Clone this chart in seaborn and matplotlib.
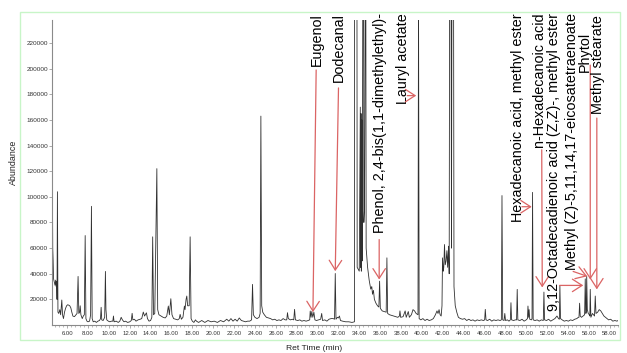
import numpy as np
import pandas as pd
import matplotlib
matplotlib.use("Agg")
import matplotlib.pyplot as plt
import seaborn as sns
from matplotlib.ticker import MultipleLocator, FuncFormatter
from matplotlib.patches import Rectangle

# Tracado do cromatograma (10 pontos por linha, tempo e abundancia alinhados)
ret_time = [
    4.57, 4.62, 4.66, 4.70, 4.78, 4.84, 4.90, 4.95, 5.00, 5.03,
    5.07, 5.12, 5.20, 5.30, 5.38, 5.49, 5.56, 5.65, 5.75, 5.85,
    5.95, 6.05, 6.15, 6.25, 6.35, 6.45, 6.55, 6.70, 6.85, 6.95,
    7.05, 7.12, 7.20, 7.25, 7.32, 7.45, 7.55, 7.65, 7.73, 7.80,
    7.90, 8.00, 8.15, 8.25, 8.33, 8.40, 8.50, 8.65, 8.80, 8.95,
    9.10, 9.20, 9.26, 9.32, 9.45, 9.60, 9.67, 9.72, 9.80, 9.95,
    10.10, 10.25, 10.38, 10.44, 10.50, 10.70, 10.90, 11.05, 11.18, 11.30,
    11.45, 11.60, 11.80, 12.00, 12.15, 12.23, 12.30, 12.45, 12.60, 12.80,
    13.00, 13.15, 13.30, 13.42, 13.60, 13.70, 13.85, 14.00, 14.12, 14.20,
    14.28, 14.40, 14.60, 14.68, 14.80, 15.00, 15.20, 15.40, 15.55, 15.70,
    15.80, 15.94, 16.05, 16.20, 16.40, 16.60, 16.75, 16.83, 16.95, 17.10,
    17.24, 17.30, 17.40, 17.47, 17.55, 17.70, 17.79, 17.88, 18.00, 18.15,
    18.30, 18.40, 18.60, 18.90, 19.20, 19.50, 19.80, 20.10, 20.40, 20.70,
    21.00, 21.30, 21.50, 21.70, 21.90, 22.10, 22.30, 22.50, 22.70, 22.90,
    23.10, 23.30, 23.50, 23.68, 23.77, 23.85, 24.00, 24.20, 24.40, 24.50,
    24.57, 24.65, 24.75, 24.90, 25.10, 25.30, 25.50, 25.70, 25.90, 26.10,
    26.30, 26.50, 26.70, 26.90, 27.05, 27.12, 27.20, 27.40, 27.60, 27.72,
    27.80, 27.88, 28.10, 28.30, 28.50, 28.70, 28.90, 29.10, 29.25, 29.30,
    29.38, 29.45, 29.55, 29.65, 29.75, 29.90, 30.10, 30.30, 30.40, 30.48,
    30.70, 30.90, 31.10, 31.30, 31.50, 31.63, 31.70, 31.77, 31.90, 32.00,
    32.10, 32.20, 32.40, 32.70, 33.00, 33.30, 33.54, 33.55, 33.78, 33.80,
    34.00, 34.10, 34.13, 34.17, 34.20, 34.24, 34.28, 34.34, 34.42, 34.44,
    34.50, 34.58, 34.63, 34.66, 34.80, 34.95, 35.10, 35.20, 35.27, 35.36,
    35.45, 35.60, 35.75, 35.88, 35.95, 36.02, 36.20, 36.40, 36.58, 36.65,
    36.72, 36.90, 37.10, 37.30, 37.50, 37.70, 37.85, 37.90, 37.97, 38.20,
    38.40, 38.50, 38.70, 38.80, 39.00, 39.15, 39.30, 39.45, 39.63, 39.68,
    39.74, 39.90, 40.10, 40.30, 40.50, 40.70, 40.90, 41.10, 41.30, 41.45,
    41.55, 41.65, 41.75, 41.85, 41.93, 41.98, 42.05, 42.10, 42.17, 42.24,
    42.32, 42.40, 42.47, 42.56, 42.62, 42.66, 42.80, 42.84, 42.88, 43.04,
    43.08, 43.20, 43.36, 43.50, 43.70, 43.90, 44.10, 44.30, 44.50, 44.70,
    44.90, 45.10, 45.30, 45.50, 45.70, 45.90, 46.02, 46.08, 46.15, 46.30,
    46.50, 46.70, 46.90, 47.10, 47.30, 47.50, 47.62, 47.68, 47.75, 47.88,
    47.95, 48.02, 48.20, 48.35, 48.48, 48.54, 48.60, 48.80, 48.95, 49.08,
    49.14, 49.20, 49.40, 49.60, 49.80, 50.00, 50.12, 50.17, 50.23, 50.28,
    50.34, 50.50, 50.56, 50.61, 50.67, 50.85, 51.05, 51.25, 51.45, 51.64,
    51.70, 51.76, 51.95, 52.15, 52.35, 52.55, 52.75, 52.95, 53.10, 53.18,
    53.23, 53.29, 53.45, 53.65, 53.85, 54.05, 54.25, 54.45, 54.65, 54.85,
    55.00, 55.06, 55.12, 55.18, 55.30, 55.45, 55.60, 55.66, 55.72, 55.76,
    55.80, 55.86, 55.95, 56.05, 56.10, 56.14, 56.20, 56.35, 56.55, 56.62,
    56.69, 56.85, 57.00, 57.15, 57.30, 57.45, 57.60, 57.75, 57.90, 58.10,
    58.30, 58.50, 58.70, 58.80,
]
abundance = [
    140000, 60000, 50000, 36000, 33000, 31000, 35000, 30000, 34000, 20000,
    104000, 10000, 9000, 12000, 8000, 19500, 8000, 5000, 10000, 13000,
    15000, 15800, 15500, 15000, 13500, 10000, 7000, 6500, 8000, 9000,
    37900, 9000, 10000, 15000, 8000, 5000, 7000, 8000, 69800, 5000,
    3000, 2500, 3000, 8000, 92600, 5000, 2500, 3000, 2000, 3000,
    3500, 5000, 13800, 4000, 3500, 6000, 41800, 12000, 4000, 3000,
    2500, 3000, 3000, 7000, 2500, 3000, 2000, 3000, 6000, 4000,
    2500, 3000, 2000, 2500, 3500, 9100, 4000, 4500, 3000, 4000,
    4500, 5000, 10100, 7000, 9500, 5000, 3000, 3500, 6000, 68800,
    8000, 9000, 122000, 12000, 8000, 7000, 6000, 5500, 7000, 14800,
    8000, 20500, 8000, 5000, 4500, 4000, 5000, 8300, 4500, 6000,
    14800, 12000, 20000, 22600, 15000, 15000, 68800, 5000, 3000, 2000,
    4000, 3000, 2000, 3500, 2000, 3500, 2500, 3000, 2000, 3500,
    2500, 4500, 3000, 5000, 3000, 4500, 3000, 5500, 3500, 3000,
    2500, 3000, 3000, 4000, 31700, 8000, 6000, 5000, 6000, 9000,
    163000, 15000, 10000, 8000, 6000, 5500, 5000, 4000, 4500, 3500,
    4000, 3500, 5000, 4000, 4000, 9600, 5000, 4000, 4500, 4000,
    12200, 4000, 3500, 4000, 3000, 3500, 3000, 3500, 4000, 10900,
    6000, 10500, 6000, 10000, 4000, 3500, 4000, 4500, 9000, 3500,
    4000, 3000, 4500, 5000, 5000, 4500, 40200, 4500, 6000, 5500,
    7000, 3500, 3000, 2500, 2500, 2000, 2500, 260000, 260000, 45000,
    42000, 170000, 45000, 165000, 42000, 160000, 50000, 260000, 260000, 80000,
    90000, 260000, 260000, 60000, 45000, 35000, 28000, 30000, 24000, 27000,
    20000, 17000, 15000, 14000, 34200, 13000, 11000, 10500, 10000, 52400,
    9000, 8000, 7500, 7000, 6500, 6000, 7000, 11000, 6000, 6500,
    11000, 6000, 10500, 6000, 8000, 12000, 11000, 9000, 8000, 260000,
    5000, 4000, 5000, 3500, 4500, 3500, 4000, 5000, 8000, 11000,
    9000, 12000, 8000, 7000, 15000, 52400, 42000, 45000, 62800, 47000,
    50000, 58000, 45000, 61500, 40000, 260000, 260000, 60000, 260000, 260000,
    30000, 15000, 9600, 6000, 5000, 4500, 5000, 3500, 4500, 3500,
    4000, 3000, 4000, 3500, 4000, 3500, 4000, 12200, 4000, 3500,
    4500, 3000, 4000, 3500, 4000, 3500, 4000, 101000, 4000, 3500,
    9000, 3500, 4000, 3000, 4000, 17400, 4000, 3500, 4000, 4000,
    27800, 4000, 3500, 4500, 3000, 4000, 5000, 14800, 6000, 12000,
    4500, 4000, 5000, 103500, 4000, 3500, 4000, 3000, 4000, 3500,
    25700, 4000, 3500, 4500, 3000, 4000, 5000, 7000, 5000, 4500,
    30900, 5000, 4000, 3000, 3500, 3000, 4000, 3500, 4500, 5000,
    6000, 6000, 17000, 7000, 6000, 7000, 8000, 36000, 9000, 10000,
    38000, 12000, 9000, 8000, 7000, 27800, 6000, 9000, 7000, 22600,
    9000, 10000, 12000, 11000, 9000, 7000, 6000, 5000, 4000, 4500,
    3000, 3500, 3000, 3500,
]

# Compostos identificados
compostos = [
    "Eugenol", "Dodecanal", "Phenol, 2,4-bis(1,1-dimethylethyl)-", "Lauryl acetate",
    "Hexadecanoic acid, methyl ester", "n-Hexadecanoic acid",
    "9,12-Octadecadienoic acid (Z,Z)-, methyl ester", "Methyl (Z)-5,11,14,17-eicosatetraenoate",
    "Phytol", "Methyl stearate",
]

df = pd.DataFrame({"Ret Time (min)": ret_time, "Abundance": abundance})

sns.set_style("white")
plt.rcParams["font.family"] = ["Liberation Sans", "DejaVu Sans"]

fig = plt.figure(figsize=(6.27, 3.53), dpi=100)
ax = fig.add_axes([52 / 627, 1 - 325 / 353, 566 / 627, 305 / 353])

sns.lineplot(data=df, x="Ret Time (min)", y="Abundance", estimator=None, sort=False,
             color="#303030", lw=0.6, ax=ax)

ax.set_xlim(4.55, 58.8)
ax.set_ylim(0, 238000)
ax.set_xticks(np.arange(6, 59, 2))
ax.xaxis.set_minor_locator(MultipleLocator(0.4))
ax.xaxis.set_major_formatter(FuncFormatter(lambda v, p: f"{v:.2f}"))
ax.set_yticks(np.arange(20000, 230000, 20000))
ax.yaxis.set_major_formatter(FuncFormatter(lambda v, p: f"{int(v)}"))
ax.tick_params(axis="x", which="major", labelsize=4.3, length=2.5, width=0.5, pad=2,
               colors="#888888", labelcolor="#333333")
ax.tick_params(axis="x", which="minor", length=1.5, width=0.4, colors="#888888")
ax.tick_params(axis="y", labelsize=4.6, length=2, width=0.5, pad=1,
               colors="#888888", labelcolor="#333333")
ax.tick_params(bottom=True, left=True, which="both")
for s in ["top", "right"]:
    ax.spines[s].set_visible(False)
for s in ["left", "bottom"]:
    ax.spines[s].set_color("#8a8a8a")
    ax.spines[s].set_linewidth(0.8)

ax.set_xlabel("")
ax.set_ylabel("")
fig.text(314 / 627, 1 - 348 / 353, "Ret Time (min)", fontsize=6.1, ha="center", va="center", color="#222222")
fig.text(13 / 627, 1 - 162 / 353, "Abundance", fontsize=6.4, rotation=90, ha="center", va="center",
         color="#222222")

# Rotulos dos compostos e setas
vermelho = "#db6464"
posicoes_texto = [(29.94, 243300), (32.01, 243300), (36.01, 243300), (38.24, 243300), (49.17, 243300),
                  (51.35, 243300), (52.69, 243300), (54.39, 243300), (55.60, 228500), (56.86, 241700)]
setas = [((29.87, 199000), (29.56, 10000)), ((32.01, 185000), (31.70, 42000)),
         ((35.91, 66700), (35.91, 35500)), ((38.60, 179000), (39.46, 179000)),
         ((49.59, 92300), (50.53, 92300)), ((51.49, 136700), (51.54, 29300)),
         ((53.20, 30900), (55.47, 30900)), ((54.50, 41800), (55.85, 38000)),
         ((56.14, 202800), (56.14, 35500)), ((56.77, 161500), (56.77, 27800))]

for nome, (tx, ty), (cauda, ponta) in zip(compostos, posicoes_texto, setas):
    ax.text(tx, ty, nome, rotation=90, ha="center", va="top", fontsize=10.4, color="black", clip_on=False)
    ax.annotate("", xy=ponta, xytext=cauda, annotation_clip=False,
                arrowprops=dict(arrowstyle="->,head_length=0.7,head_width=0.45", color=vermelho,
                                lw=0.9, mutation_scale=10, shrinkA=0, shrinkB=0))

# moldura verde clara
fig.add_artist(Rectangle((20 / 627, 1 - 340 / 353), 600 / 627, 328 / 353, transform=fig.transFigure,
                         fill=False, ec="#c8f5c8", lw=1))

fig.savefig("out.png", dpi=100)
